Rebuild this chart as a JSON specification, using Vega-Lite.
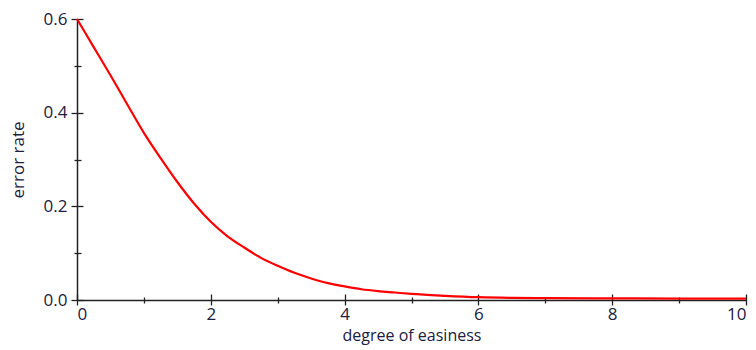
{
  "$schema": "https://vega.github.io/schema/vega-lite/v6.json",
  "autosize": "none",
  "width": 669,
  "height": 281,
  "padding": {"left": 77, "top": 19, "right": 10, "bottom": 50},
  "background": "white",
  "config": {
    "view": {"stroke": null},
    "font": "Open Sans",
    "axis": {
      "grid": false,
      "labelFont": "Open Sans",
      "labelFontSize": 17,
      "labelColor": "#202040",
      "titleFont": "Open Sans",
      "titleFontSize": 17,
      "titleFontWeight": "normal",
      "titleColor": "#202040",
      "domainColor": "#222222",
      "domainWidth": 1.5,
      "tickColor": "#222222",
      "tickWidth": 1.3
    }
  },
  "data": {
    "values": [
      {"x": 0, "y": 0.6},
      {"x": 0.25, "y": 0.54},
      {"x": 0.5, "y": 0.48},
      {"x": 0.75, "y": 0.418},
      {"x": 1.0, "y": 0.357},
      {"x": 1.25, "y": 0.303},
      {"x": 1.5, "y": 0.252},
      {"x": 1.75, "y": 0.206},
      {"x": 2.0, "y": 0.167},
      {"x": 2.25, "y": 0.136},
      {"x": 2.5, "y": 0.112},
      {"x": 2.75, "y": 0.09},
      {"x": 3.0, "y": 0.073},
      {"x": 3.25, "y": 0.058},
      {"x": 3.5, "y": 0.046},
      {"x": 3.75, "y": 0.036},
      {"x": 4.0, "y": 0.029},
      {"x": 4.25, "y": 0.023},
      {"x": 4.5, "y": 0.019},
      {"x": 4.75, "y": 0.016},
      {"x": 5.0, "y": 0.013},
      {"x": 5.5, "y": 0.009},
      {"x": 6.0, "y": 0.006},
      {"x": 6.5, "y": 0.0045},
      {"x": 7.0, "y": 0.004},
      {"x": 8.0, "y": 0.0035},
      {"x": 9.0, "y": 0.003},
      {"x": 10.0, "y": 0.003}
    ]
  },
  "layer": [
    {
      "mark": {"type": "point", "opacity": 0},
      "encoding": {
        "x": {"field": "x", "type": "quantitative", "scale": {"domain": [0, 10], "nice": false},
          "axis": {"orient": "bottom", "offset": -6, "domain": false, "labels": false, "ticks": true, "tickSize": 11, "values": [0, 2, 4, 6, 8, 10], "title": null}},
        "y": {"field": "y", "type": "quantitative", "scale": {"domain": [0, 0.6], "nice": false},
          "axis": {"orient": "left", "offset": -6, "domain": false, "labels": false, "ticks": true, "tickSize": 12, "values": [0, 0.2, 0.4, 0.6], "title": null}}
      }
    },
    {
      "mark": {"type": "point", "opacity": 0},
      "encoding": {
        "x": {"field": "x", "type": "quantitative", "scale": {"domain": [0, 10], "nice": false},
          "axis": {"orient": "bottom", "offset": -3, "domain": false, "labels": false, "ticks": true, "tickSize": 6, "values": [1, 3, 5, 7, 9], "title": null}},
        "y": {"field": "y", "type": "quantitative", "scale": {"domain": [0, 0.6], "nice": false},
          "axis": {"orient": "left", "offset": -4, "domain": false, "labels": false, "ticks": true, "tickSize": 7, "values": [0.1, 0.3, 0.5], "title": null}}
      }
    },
    {
      "mark": {"type": "line", "color": "#ff0000", "strokeWidth": 2.2, "interpolate": "monotone"},
      "encoding": {
        "x": {"field": "x", "type": "quantitative", "scale": {"domain": [0, 10], "nice": false},
          "axis": {"orient": "bottom", "domain": true, "ticks": false, "tickSize": 0, "labelPadding": 6, "values": [0, 2, 4, 6, 8, 10], "title": "degree of easiness", "titleFontSize": 16, "titlePadding": 5}},
        "y": {"field": "y", "type": "quantitative", "scale": {"domain": [0, 0.6], "nice": false},
          "axis": {"orient": "left", "domain": true, "ticks": false, "tickSize": 0, "labelPadding": 10, "values": [0, 0.2, 0.4, 0.6], "format": ".1f", "title": "error rate", "titlePadding": 16}}
      }
    }
  ],
  "resolve": {"axis": {"x": "independent", "y": "independent"}}
}
